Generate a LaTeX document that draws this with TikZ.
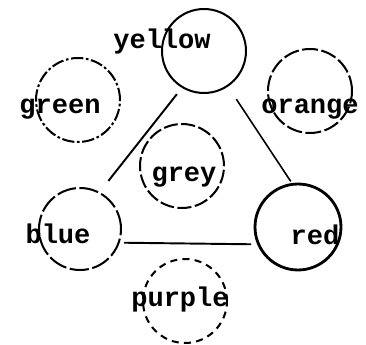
\documentclass[tikz,border=0pt]{standalone}
\usepackage{fontspec}
\newfontfamily\typewfont{Liberation Mono}
\usepackage{tikz}
\usetikzlibrary{shapes,arrows,positioning}

\begin{document}
\begin{tikzpicture}[x=0.02cm, y=-0.02cm,
        vertex/.style={draw, circle, inner sep=0pt, minimum size=1.68cm, line width=1.15pt},
        lbl/.style={anchor=base, inner sep=0pt, font=\typewfont\bfseries\fontsize{15.4}{18}\selectfont},
        edge/.style={line width=1.1pt}]
        \useasboundingbox (0,0) rectangle (366,345);

        % Circles
        \node[vertex] (yellow) at (204,51) {};
        \node[vertex, dash pattern=on 7pt off 1.5pt on 1.5pt off 1.5pt] (green) at (78,100) {};
        \node[vertex, dash pattern=on 9pt off 2pt] (orange) at (310,91) {};
        \node[vertex, dash pattern=on 8pt off 2pt] (grey) at (182,166) {};
        \node[vertex, minimum size=1.64cm, dash pattern=on 11pt off 2pt] (blue) at (80,229) {};
        \node[vertex, minimum size=1.72cm, line width=1.6pt] (red) at (298,227) {};
        \node[vertex, dash pattern=on 4pt off 3pt] (purple) at (185,301) {};

        % Labels, set beside the circles
        \node[lbl] (yellowlbl) at (162,48) {yellow};
        \node[lbl] (greenlbl) at (60,113) {green};
        \node[lbl] (orangelbl) at (310,113) {orange};
        \node[lbl] (greylbl) at (184,181) {grey};
        \node[lbl] (bluelbl) at (58,243) {blue};
        \node[lbl] (redlbl) at (315,244) {red};
        \node[lbl] (purplelbl) at (180,306) {purple};

        % Edges
        \draw[edge, shorten <=0.16cm, shorten >=0.28cm] (yellow.239) -- (blue.62);
        \draw[edge, line width=0.9pt, shorten <=0.3cm, shorten >=0.04cm] (yellow.304) -- (red.98);
        \draw[edge, shorten <=0.09cm, shorten >=0.12cm] (blue.341) -- (red.203);
    \end{tikzpicture}
\end{document}
